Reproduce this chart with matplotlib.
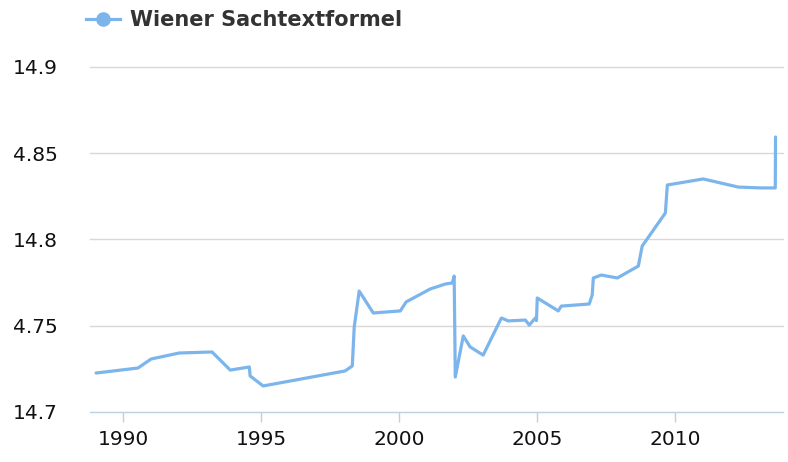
import matplotlib
matplotlib.use("Agg")
import matplotlib.pyplot as plt
from matplotlib.lines import Line2D

years = [1989.02, 1990.54, 1991.01, 1992.03, 1993.22, 1993.88, 1994.57, 1994.60,
         1995.07, 1998.04, 1998.30, 1998.37, 1998.55, 1999.06, 2000.04, 2000.25,
         2001.12, 2001.67, 2001.92, 2001.99, 2002.03, 2002.32, 2002.57, 2003.04,
         2003.70, 2003.95, 2004.57, 2004.71, 2004.93, 2004.97, 2005.00, 2005.76,
         2005.87, 2006.88, 2006.99, 2007.03, 2007.32, 2007.90, 2008.66, 2008.80,
         2009.64, 2009.71, 2011.01, 2012.28, 2013.08, 2013.62, 2013.63]
values = [14.7226, 14.7255, 14.7307, 14.7342, 14.7348, 14.7243, 14.7261, 14.7209,
          14.7151, 14.7238, 14.7267, 14.7493, 14.7701, 14.7574, 14.7586, 14.7638,
          14.7713, 14.7742, 14.7748, 14.7788, 14.7203, 14.7441, 14.7377, 14.7330,
          14.7545, 14.7528, 14.7533, 14.7504, 14.7545, 14.7530, 14.7661, 14.7586,
          14.7614, 14.7626, 14.7678, 14.7777, 14.7794, 14.7777, 14.7846, 14.7962,
          14.8154, 14.8316, 14.8351, 14.8304, 14.8299, 14.8299, 14.8594]
series_name = "Wiener Sachtextformel"
y_ticks = [14.7, 14.75, 14.8, 14.85, 14.9]
y_tick_labels = ["14.7", "4.75", "14.8", "4.85", "14.9"]
x_ticks = [1990, 1995, 2000, 2005, 2010]
x_tick_labels = ["1990", "1995", "2000", "2005", "2010"]

W, H = 788, 462
fig = plt.figure(figsize=(W / 100, H / 100), dpi=100)
ax = fig.add_axes([90 / W, 1 - 412 / H, (783 - 90) / W, (412 - 67) / H])

color = "#7cb5ec"
ax.plot(years, values, color=color, lw=2.3, solid_joinstyle="round",
        solid_capstyle="round", clip_on=False)

ax.set_xlim(1988.8, 2013.9)
ax.set_ylim(14.7, 14.9)

ax.set_yticks(y_ticks)
ax.set_yticklabels(y_tick_labels)
ax.set_xticks(x_ticks)
ax.set_xticklabels(x_tick_labels)

for v in y_ticks[1:]:
    ax.axhline(v, color="#d8d8d8", lw=1, zorder=0, clip_on=False)

for s in ["top", "right", "left"]:
    ax.spines[s].set_visible(False)
ax.spines["bottom"].set_color("#c0d0e0")
ax.spines["bottom"].set_linewidth(1)

ax.tick_params(axis="y", length=0, pad=23, labelsize=14.5, labelcolor="#111111")
ax.tick_params(axis="x", length=7, width=1, color="#c0d0e0", pad=6,
               labelsize=14.5, labelcolor="#111111")

handle = Line2D([0], [0], color=color, lw=2.3, marker="o", markersize=9.5,
                markerfacecolor=color, markeredgecolor=color)
leg = fig.legend([handle], [series_name], loc="center left",
                 bbox_to_anchor=(86 / W, 1 - 20 / H),
                 frameon=False, prop={"weight": "bold", "size": 15},
                 handlelength=1.63, handletextpad=0.48, borderpad=0,
                 borderaxespad=0)
for t in leg.get_texts():
    t.set_color("#333333")

fig.savefig("out.png", dpi=100)
